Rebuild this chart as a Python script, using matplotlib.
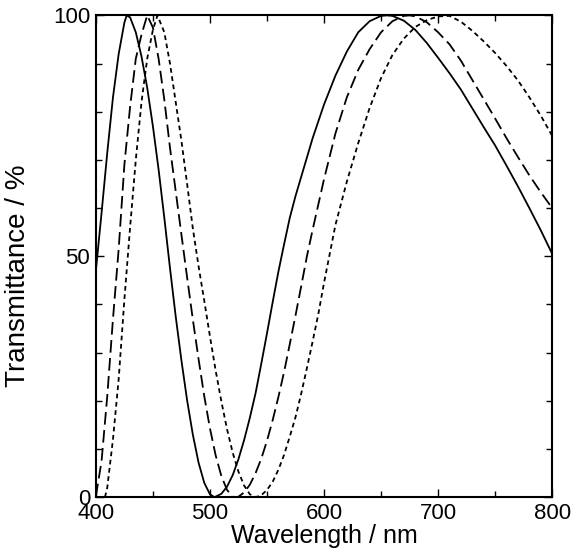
import matplotlib
matplotlib.use("Agg")
import matplotlib.pyplot as plt
from matplotlib.ticker import MultipleLocator

plt.rcParams['font.family'] = ['Liberation Sans', 'DejaVu Sans']

# solid curve
wl_solid = [400, 405, 410, 415, 420, 425, 427, 430, 435, 440, 445, 450, 455, 460, 465,
            470, 475, 480, 485, 490, 495, 500, 504, 510, 515, 520, 525, 530, 535, 540,
            545, 550, 555, 560, 565, 570, 575, 580, 590, 600, 610, 620, 630, 640, 650, 655,
            660, 670, 680, 690, 700, 710, 720, 730, 740, 750, 760, 770, 780, 790, 800]
t_solid = [47, 59, 71.5, 83, 92, 98.5, 100, 99.6, 96.5, 91.5, 85, 77, 68, 58, 47.5,
           37.5, 28.4, 20.1, 13, 7.2, 3, 0.6, 0, 0.7, 2.2, 4.6, 7.9, 11.9, 16.5, 21.6,
           27.7, 34, 40.5, 46.8, 52.5, 58, 62.5, 66.5, 74.5, 81.5, 87.5, 92.5, 96.5, 98.8, 99.9, 100,
           99.9, 98.9, 97, 94.3, 91.2, 88, 84.6, 80.7, 76.8, 73, 68.8, 64.5, 60, 55.4, 50.5]

# long dashed curve
wl_long = [400, 405, 410, 415, 420, 425, 430, 435, 440, 445, 450, 455, 460, 465, 470,
           475, 480, 485, 490, 495, 500, 505, 510, 515, 520, 522, 525, 530, 535, 540,
           545, 550, 555, 560, 565, 570, 575, 580, 585, 590, 600, 610, 620, 630, 640,
           650, 660, 670, 675, 680, 690, 700, 710, 720, 730, 740, 750, 760, 770, 780,
           790, 800]
t_long = [0.2, 7.5, 21, 37, 51.5, 69, 81, 91, 96, 100, 97.5, 91, 82.5, 72.5, 63.5,
          54.5, 45.6, 36.9, 28.7, 21, 14.3, 8.7, 4.4, 1.5, 0.1, 0, 0.1, 1, 2.6, 5,
          8, 11.7, 16, 20.8, 26, 31.8, 37.7, 43.8, 50, 55.5, 66, 75.5, 83, 88.7, 93,
          96.5, 98.8, 99.9, 100, 99.8, 98.6, 96.5, 94, 90.6, 86.6, 82.6, 78.6, 74.5, 70.6, 66.8,
          63.3, 60]

# short dashed curve
wl_short = [408, 410, 415, 420, 425, 430, 435, 440, 445, 450, 454, 460, 465, 470, 475,
            480, 485, 490, 495, 500, 505, 510, 515, 520, 525, 530, 535, 540, 545, 550,
            555, 560, 565, 570, 575, 580, 585, 590, 595, 600, 605, 610, 620, 630, 640,
            650, 660, 670, 680, 690, 700, 710, 720, 730, 740, 750, 760, 770, 780, 790, 800]
t_short = [0, 2, 12, 24.5, 41, 56, 70, 82, 91, 97, 100, 96.5, 90, 82, 74,
           65, 55.8, 48, 40.8, 33.4, 26.3, 19.9, 14.1, 9.2, 5.3, 2.4, 0.6, 0, 0.4, 1.5,
           3.2, 5.7, 8.8, 12.6, 16.6, 21.5, 26.8, 32.3, 38, 44.5, 50.5, 56.5, 65.5, 73.5, 80.8,
           87, 91.8, 95.2, 97.6, 99, 99.8, 99.9, 98.7, 96.8, 94.6, 92.2, 89.5, 86.5, 83, 79.2, 75]

fig = plt.figure(figsize=(5.74, 5.5), dpi=100)
ax = fig.add_axes([0.167, 0.096, 0.795, 0.876])

ax.plot(wl_solid, t_solid, color='black', lw=1.3, ls='-')
ax.plot(wl_long, t_long, color='black', lw=1.3, ls=(0, (7, 3)))
ax.plot(wl_short, t_short, color='black', lw=1.3, ls=(0, (2.6, 2)))

ax.set_xlim(400, 800)
ax.set_ylim(0, 100)
ax.set_xticks([400, 500, 600, 700, 800])
ax.set_yticks([0, 50, 100])
ax.xaxis.set_minor_locator(MultipleLocator(50))
ax.yaxis.set_minor_locator(MultipleLocator(10))
ax.tick_params(which='both', direction='in', top=True, right=True, width=1, labelsize=16)
ax.tick_params(which='major', length=6, pad=4)
ax.tick_params(which='minor', length=4)
for s in ax.spines.values():
    s.set_linewidth(1.5)

ax.set_xlabel('Wavelength / nm', fontsize=18)
ax.set_ylabel('Transmittance / %', fontsize=20)
ax.yaxis.set_label_coords(-0.143, 0.46)
ax.xaxis.set_label_coords(0.5, -0.056)
ax.xaxis.label.set_va('top')

fig.savefig('out.png', dpi=100)
